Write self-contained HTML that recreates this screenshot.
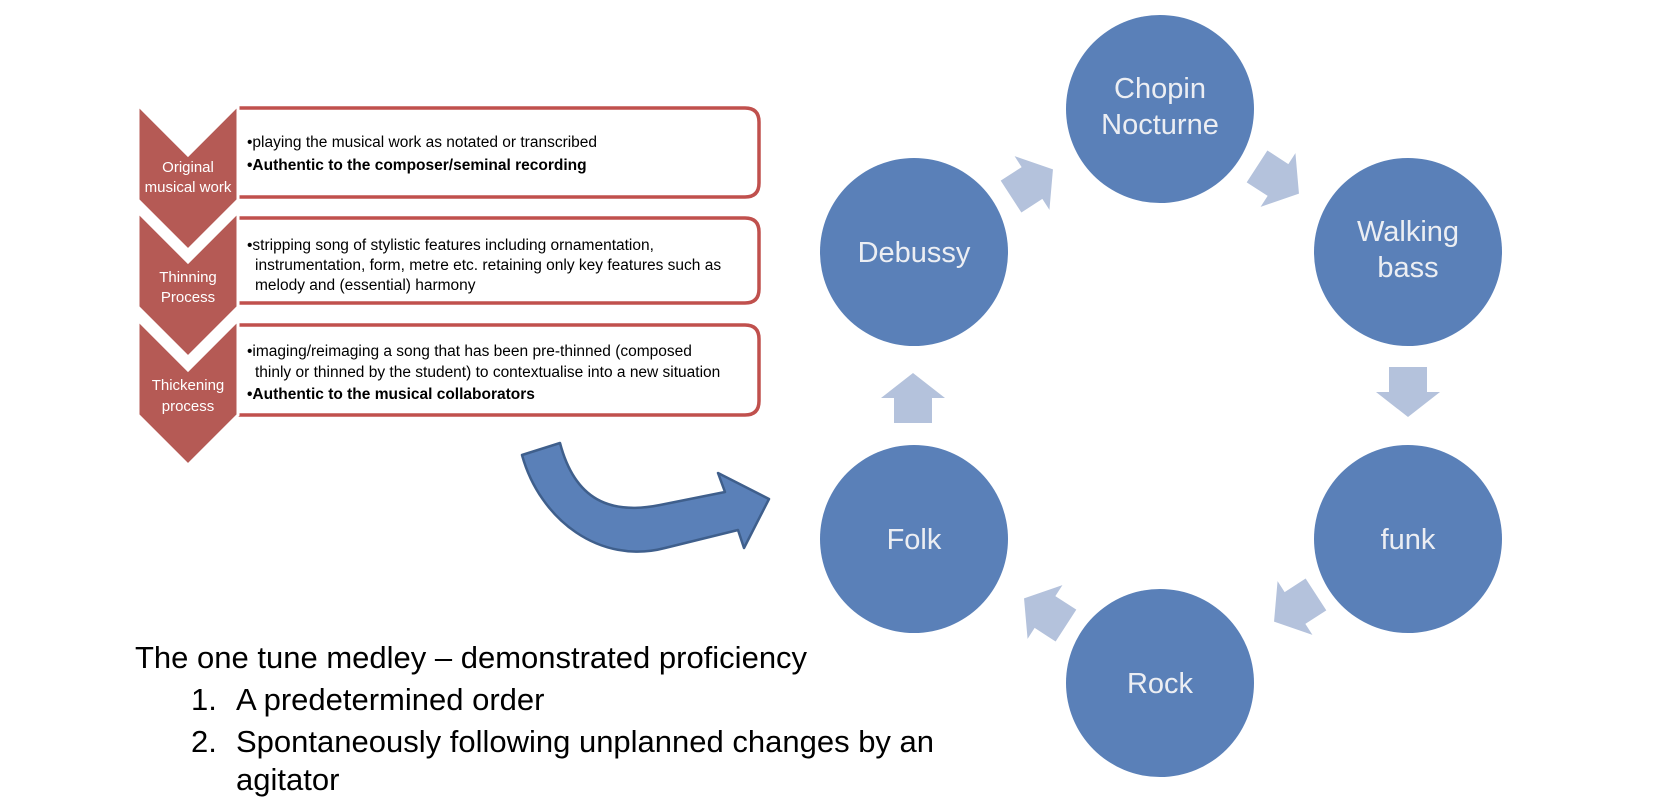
<!DOCTYPE html>
<html><head><meta charset="utf-8"><style>
html,body{margin:0;padding:0;background:#fff;}
svg{display:block;}
</style></head><body>
<svg width="1654" height="810" viewBox="0 0 1654 810" xmlns="http://www.w3.org/2000/svg" font-family="Liberation Sans, sans-serif">
<defs>
<path id="ar" d="M-25,-19 L0,-19 L0,-32 L25,0 L0,32 L0,19 L-25,19 Z" fill="#b4c2dc"/>
</defs>
<!-- boxes -->
<g fill="#fff" stroke="#c0504d" stroke-width="3.5">
<path d="M238,108 H745 Q759,108 759,122 V183 Q759,197 745,197 H238"/>
<path d="M238,218 H745 Q759,218 759,232 V289 Q759,303 745,303 H238"/>
<path d="M238,325 H745 Q759,325 759,339 V401 Q759,415 745,415 H238"/>
</g>
<!-- chevrons -->
<g fill="#b55a55" stroke="#fff" stroke-width="3">
<path d="M138,105 L188,155 L238,105 L238,200 L188,250 L138,200 Z"/>
<path d="M138,212 L188,262 L238,212 L238,307 L188,357 L138,307 Z"/>
<path d="M138,320 L188,370 L238,320 L238,415 L188,465 L138,415 Z"/>
</g>
<g fill="#fff" font-size="15" text-anchor="middle">
<text x="188" y="172">Original</text><text x="188" y="192">musical work</text>
<text x="188" y="282">Thinning</text><text x="188" y="302">Process</text>
<text x="188" y="390">Thickening</text><text x="188" y="411">process</text>
</g>
<g fill="#000" font-size="15.5">
<text x="247" y="147">•playing the musical work as notated or transcribed</text>
<text x="247" y="170" font-weight="bold">•Authentic to the composer/seminal recording</text>
<text x="247" y="250">•stripping song of stylistic features including ornamentation,</text>
<text x="255" y="270">instrumentation, form, metre etc. retaining only key features such as</text>
<text x="255" y="290">melody and (essential) harmony</text>
<text x="247" y="356">•imaging/reimaging a song that has been pre-thinned (composed</text>
<text x="255" y="377">thinly or thinned by the student) to contextualise into a new situation</text>
<text x="247" y="399" font-weight="bold">•Authentic to the musical collaborators</text>
</g>
<!-- curved arrow -->
<path d="M522,455 L560,443 C575,500 610,515 660,505 L725,492 L718,473 L769,499 L744,548 L738,530 L665,548 C600,565 540,520 522,455 Z" fill="#5a80b8" stroke="#3f5f8c" stroke-width="2.5" stroke-linejoin="round"/>
<!-- bottom text -->
<g fill="#000" font-size="31">
<text x="135" y="668">The one tune medley – demonstrated proficiency</text>
<text x="191" y="710">1.</text><text x="236" y="710">A predetermined order</text>
<text x="191" y="752">2.</text><text x="236" y="752">Spontaneously following unplanned changes by an</text>
<text x="236" y="790">agitator</text>
</g>
<!-- cycle arrows -->
<use href="#ar" transform="translate(1032,183) rotate(-33)"/>
<use href="#ar" transform="translate(1278,180) rotate(33)"/>
<use href="#ar" transform="translate(1408,392) rotate(90)"/>
<use href="#ar" transform="translate(1295,608) rotate(147)"/>
<use href="#ar" transform="translate(1045,612) rotate(213)"/>
<use href="#ar" transform="translate(913,398) rotate(-90)"/>
<!-- circles -->
<g fill="#5a80b8">
<circle cx="914" cy="252" r="94"/>
<circle cx="1160" cy="109" r="94"/>
<circle cx="1408" cy="252" r="94"/>
<circle cx="1408" cy="539" r="94"/>
<circle cx="1160" cy="683" r="94"/>
<circle cx="914" cy="539" r="94"/>
</g>
<g fill="#eceef3" font-size="29" text-anchor="middle">
<text x="914" y="262">Debussy</text>
<text x="1160" y="98">Chopin</text><text x="1160" y="134">Nocturne</text>
<text x="1408" y="241">Walking</text><text x="1408" y="277">bass</text>
<text x="1408" y="549">funk</text>
<text x="1160" y="693">Rock</text>
<text x="914" y="549">Folk</text>
</g>
</svg>
</body></html>
